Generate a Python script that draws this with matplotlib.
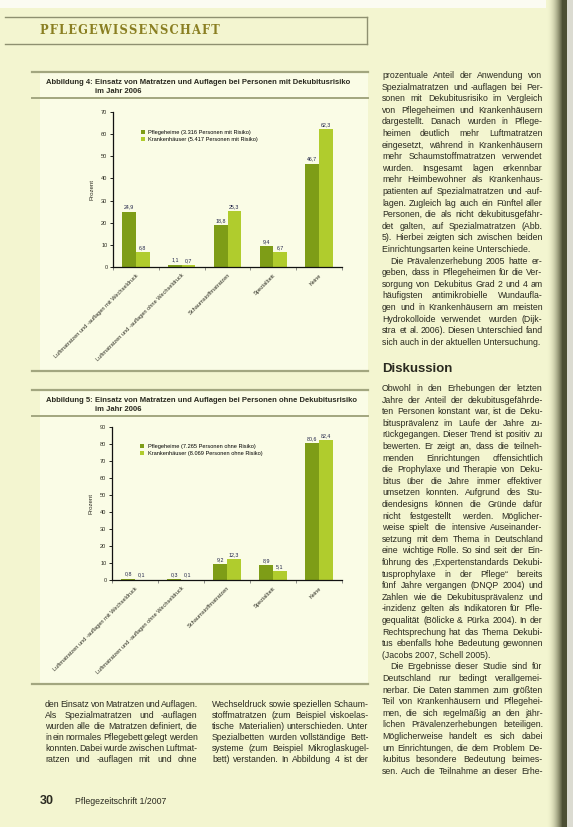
import matplotlib
matplotlib.use("Agg")
import matplotlib.pyplot as plt
import matplotlib.font_manager as fm
from matplotlib.font_manager import FontProperties
from matplotlib.textpath import TextPath
from matplotlib.patches import Rectangle
from matplotlib.lines import Line2D
import numpy as np

W, H, DPI = 573, 827, 100

# --- data ----------------------------------------------------------------------
KATEGORIEN = ["Luftmatratzen und -auflagen mit Wechseldruck",
              "Luftmatratzen und -auflagen ohne Wechseldruck",
              "Schaumstoffmatratzen",
              "Spezialbett",
              "Keine"]
HEIM_MIT = [24.9, 1.1, 18.8, 9.4, 46.7]
KH_MIT = [6.8, 0.7, 25.3, 6.7, 62.3]
HEIM_OHNE = [0.8, 0.3, 9.2, 8.9, 80.6]
KH_OHNE = [0.1, 0.1, 12.3, 5.1, 82.4]
LEGENDE_MIT = ["Pflegeheime (3.316 Personen mit Risiko)",
               "Krankenhäuser (5.417 Personen mit Risiko)"]
LEGENDE_OHNE = ["Pflegeheime (7.265 Personen ohne Risiko)",
                "Krankenhäuser (8.069 Personen ohne Risiko)"]
YTICKS_MIT = [0, 10, 20, 30, 40, 50, 60, 70]
YTICKS_OHNE = [0, 10, 20, 30, 40, 50, 60, 70, 80, 90]

# --- page text ------------------------------------------------------------------
RECHTS_OBEN = [
    "prozentuale Anteil der Anwendung von",
    "Spezialmatratzen und -auflagen bei Per-",
    "sonen mit Dekubitusrisiko im Vergleich",
    "von Pflegeheimen und Krankenhäusern",
    "dargestellt. Danach wurden in Pflege-",
    "heimen deutlich mehr Luftmatratzen",
    "eingesetzt, während in Krankenhäusern",
    "mehr Schaumstoffmatratzen verwendet",
    "wurden. Insgesamt lagen erkennbar",
    "mehr Heimbewohner als Krankenhaus-",
    "patienten auf Spezialmatratzen und -auf-",
    "lagen. Zugleich lag auch ein Fünftel aller",
    "Personen, die als nicht dekubitusgefähr-",
    "det galten, auf Spezialmatratzen (Abb.",
    "5). Hierbei zeigten sich zwischen beiden",
    "Einrichtungsarten keine Unterschiede.",
    "  Die Prävalenzerhebung 2005 hatte er-",
    "geben, dass in Pflegeheimen für die Ver-",
    "sorgung von Dekubitus Grad 2 und 4 am",
    "häufigsten antimikrobielle Wundaufla-",
    "gen und in Krankenhäusern am meisten",
    "Hydrokolloide verwendet wurden (Dijk-",
    "stra et al. 2006). Diesen Unterschied fand",
    "sich auch in der aktuellen Untersuchung.",
]
DISKUSSION = [
    "Obwohl in den Erhebungen der letzten",
    "Jahre der Anteil der dekubitusgefährde-",
    "ten Personen konstant war, ist die Deku-",
    "bitusprävalenz im Laufe der Jahre zu-",
    "rückgegangen. Dieser Trend ist positiv zu",
    "bewerten. Er zeigt an, dass die teilneh-",
    "menden Einrichtungen offensichtlich",
    "die Prophylaxe und Therapie von Deku-",
    "bitus über die Jahre immer effektiver",
    "umsetzen konnten. Aufgrund des Stu-",
    "diendesigns können die Gründe dafür",
    "nicht festgestellt werden. Möglicher-",
    "weise spielt die intensive Auseinander-",
    "setzung mit dem Thema in Deutschland",
    "eine wichtige Rolle. So sind seit der Ein-",
    "führung des „Expertenstandards Dekubi-",
    "tusprophylaxe in der Pflege“ bereits",
    "fünf Jahre vergangen (DNQP 2004) und",
    "Zahlen wie die Dekubitusprävalenz und",
    "-inzidenz gelten als Indikatoren für Pfle-",
    "gequalität (Bölicke & Pürka 2004). In der",
    "Rechtsprechung hat das Thema Dekubi-",
    "tus ebenfalls hohe Bedeutung gewonnen",
    "(Jacobs 2007, Schell 2005).",
    "  Die Ergebnisse dieser Studie sind für",
    "Deutschland nur bedingt verallgemei-",
    "nerbar. Die Daten stammen zum größten",
    "Teil von Krankenhäusern und Pflegehei-",
    "men, die sich regelmäßig an den jähr-",
    "lichen Prävalenzerhebungen beteiligen.",
    "Möglicherweise handelt es sich dabei",
    "um Einrichtungen, die dem Problem De-",
    "kubitus besondere Bedeutung beimes-",
    "sen. Auch die Teilnahme an dieser Erhe-",
]
UNTEN_LINKS = [
    "den Einsatz von Matratzen und Auflagen.",
    "Als Spezialmatratzen und -auflagen",
    "wurden alle die Matratzen definiert, die",
    "in ein normales Pflegebett gelegt werden",
    "konnten. Dabei wurde zwischen Luftmat-",
    "ratzen und -auflagen mit und ohne",
]
UNTEN_RECHTS = [
    "Wechseldruck sowie speziellen Schaum-",
    "stoffmatratzen (zum Beispiel viskoelas-",
    "tische Materialien) unterschieden. Unter",
    "Spezialbetten wurden vollständige Bett-",
    "systeme (zum Beispiel Mikroglaskugel-",
    "bett) verstanden. In Abbildung 4 ist der",
]

# --- style ------------------------------------------------------------------------
PAGE = "#f3f5d0"
PANEL = "#fafce6"
DARK = "#7e9d17"
LIGHT = "#b0cc2d"
INK = "#2a2a20"
NAVY = "#1f2247"
RULE = "#a2a67f"
HEAD = "#8a7f22"

_names = {f.name for f in fm.fontManager.ttflist}
NARROW = "Liberation Sans Narrow" if "Liberation Sans Narrow" in _names else "Liberation Sans"
BODY_FS = 7.2 if NARROW == "Liberation Sans Narrow" else 6.3
SMALL = 4.8 if NARROW == "Liberation Sans Narrow" else 4.1

fig = plt.figure(figsize=(W / DPI, H / DPI), dpi=DPI)
fig.patch.set_facecolor(PAGE)


def fx(x):
    return x / W


def fy(y):
    return 1 - y / H


def rect(x0, y0, x1, y1, color, z=-2):
    fig.add_artist(Rectangle((fx(x0), fy(y1)), (x1 - x0) / W, (y1 - y0) / H,
                             facecolor=color, edgecolor="none", zorder=z,
                             transform=fig.transFigure))


def hline(x0, x1, y, lw=1.2, color=RULE):
    fig.add_artist(Line2D([fx(x0), fx(x1)], [fy(y), fy(y)], lw=lw, color=color,
                          transform=fig.transFigure, zorder=1))


def breite(s, fp):
    return TextPath((0, 0), s, prop=fp).get_extents().xmax * DPI / 72


def setze(x0, x1, y0, zeilen, lh=11.6, offen=False):
    fp = FontProperties(family=NARROW, size=BODY_FS)
    for i, z in enumerate(zeilen):
        y = y0 + i * lh
        xs = x0 + (8 if z.startswith("  ") else 0)
        woerter = z.split()
        letzte = i == len(zeilen) - 1
        ende = (letzte and not offen) or (not letzte and zeilen[i + 1].startswith("  "))
        if ende or len(woerter) < 2:
            fig.text(fx(xs), fy(y), " ".join(woerter), fontproperties=fp,
                     color=INK, va="baseline")
            continue
        bs = [breite(w, fp) for w in woerter]
        luecke = max((x1 - xs - sum(bs)) / (len(woerter) - 1), 1.6)
        x = xs
        for w, b in zip(woerter, bs):
            fig.text(fx(x), fy(y), w, fontproperties=fp, color=INK, va="baseline")
            x += b + luecke


# page furniture
rect(0, 0, W, 8, "#fbfbf2", z=-3)
hline(5, 367, 17, lw=1.0, color="#8e9070")
hline(5, 367, 44, lw=1.0, color="#8e9070")
fig.add_artist(Line2D([fx(367), fx(367)], [fy(17), fy(44)], lw=1.0, color="#8e9070",
                      transform=fig.transFigure))
fig.text(fx(40), fy(31), "\u200a".join("PFLEGEWISSENSCHAFT"), family="DejaVu Serif",
         fontweight="bold", fontsize=8.3, color=HEAD, va="center")


def panel(top, bottom, nr, titel):
    rect(40, top, 368, bottom, PANEL)
    hline(32, 368, top, lw=1.6)
    hline(32, 368, top + 26, lw=1.4)
    hline(32, 368, bottom, lw=1.6)
    fp = FontProperties(family=NARROW, size=SMALL + 1.4, weight="bold")
    fig.text(fx(46), fy(top + 12), f"Abbildung {nr}:", fontproperties=fp, color=INK,
             va="baseline")
    fig.text(fx(95), fy(top + 12), titel, fontproperties=fp, color=INK, va="baseline")
    fig.text(fx(95), fy(top + 21), "im Jahr 2006", fontproperties=fp, color=INK,
             va="baseline")


def balken(ax, heim, kh, ticks, legende):
    x = np.arange(len(KATEGORIEN))
    w = 0.3
    b1 = ax.bar(x - w / 2, heim, width=w, color=DARK, label=legende[0])
    b2 = ax.bar(x + w / 2, kh, width=w, color=LIGHT, label=legende[1])
    for bars, vals in ((b1, heim), (b2, kh)):
        for b, v in zip(bars, vals):
            ax.annotate(f"{v:.1f}".replace(".", ","),
                        (b.get_x() + b.get_width() / 2, v), xytext=(0, 1.5),
                        textcoords="offset points", ha="center", va="bottom",
                        fontsize=SMALL - 0.3, family=NARROW, color=NAVY)
    ax.set_xlim(-0.5, len(KATEGORIEN) - 0.5)
    ax.set_ylim(0, ticks[-1])
    ax.set_yticks(ticks)
    ax.set_yticklabels([str(t) for t in ticks], fontsize=SMALL, family=NARROW, color=INK)
    ax.set_xticks(x)
    ax.set_xticklabels(KATEGORIEN, rotation=45, ha="right", rotation_mode="anchor",
                       fontsize=SMALL, family=NARROW, color=INK)
    ax.set_xticks(np.arange(-0.5, len(KATEGORIEN)), minor=True)
    ax.tick_params(axis="x", which="major", length=0, pad=4)
    ax.tick_params(axis="x", which="minor", length=2, width=0.5, color="#666")
    ax.tick_params(axis="y", length=2.5, width=0.6, pad=1.5)
    ax.set_ylabel("Prozent", fontsize=SMALL + 0.3, family=NARROW, color=INK, labelpad=5)
    ax.set_facecolor("none")
    for s in ("top", "right"):
        ax.spines[s].set_visible(False)
    for s in ("left", "bottom"):
        ax.spines[s].set_linewidth(0.9)
        ax.spines[s].set_color("#111")
    ax.legend(loc="upper left", bbox_to_anchor=(0.1, 0.92), frameon=False,
              prop=FontProperties(family=NARROW, size=SMALL), handlelength=0.7,
              handleheight=0.7, handletextpad=0.6, labelspacing=0.35)


panel(72, 371, 4, "Einsatz von Matratzen und Auflagen bei Personen mit Dekubitusrisiko")
panel(390, 684, 5, "Einsatz von Matratzen und Auflagen bei Personen ohne Dekubitusrisiko")

ax1 = fig.add_axes([fx(113), fy(267), 229 / W, 155 / H])
balken(ax1, HEIM_MIT, KH_MIT, YTICKS_MIT, LEGENDE_MIT)
ax2 = fig.add_axes([fx(112), fy(580), 230 / W, 153 / H])
balken(ax2, HEIM_OHNE, KH_OHNE, YTICKS_OHNE, LEGENDE_OHNE)

# body text
setze(382, 542, 78, RECHTS_OBEN)
fig.text(fx(382), fy(372), "Diskussion", family=NARROW, fontsize=9.5, fontweight="bold",
         color=INK, va="baseline")
setze(382, 542, 391, DISKUSSION, offen=True)
setze(45, 197, 707, UNTEN_LINKS, lh=11, offen=True)
setze(212, 368, 707, UNTEN_RECHTS, lh=11, offen=True)

fig.text(fx(40), fy(804), "30", family="Liberation Sans", fontsize=9, fontweight="bold",
         color=INK, va="baseline")
fig.text(fx(75), fy(804), "Pflegezeitschrift 1/2007", family=NARROW, fontsize=BODY_FS,
         color=INK, va="baseline")

# binding shadow at the right edge
gx = fig.add_axes([fx(546), 0, (W - 546) / W, 1], zorder=5)
page_rgb = np.array(matplotlib.colors.to_rgb(PAGE))
dark_rgb = np.array([0.30, 0.31, 0.20])
edge_rgb = np.array([0.86, 0.86, 0.82])
cols = []
for i in range(W - 546):
    if i < 16:
        t = (i / 16) ** 2
        cols.append(page_rgb * (1 - t) + dark_rgb * t)
    elif i < 21:
        cols.append(dark_rgb)
    else:
        cols.append(edge_rgb)
gx.imshow(np.array(cols)[None, :, :], aspect="auto", extent=(0, 1, 0, 1))
gx.set_axis_off()

fig.savefig("out.png", dpi=DPI, facecolor=PAGE)
